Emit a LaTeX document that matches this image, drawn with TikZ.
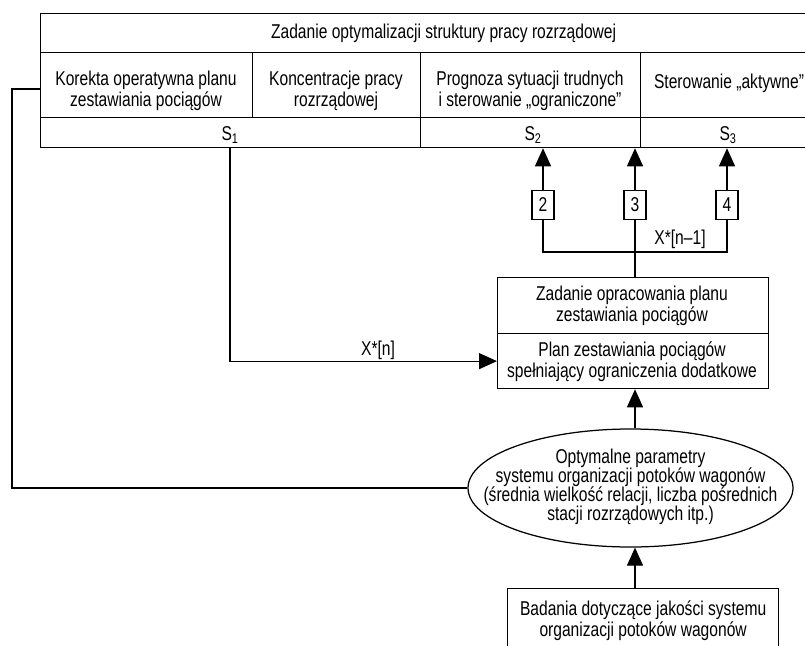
\documentclass[tikz,border=0pt]{standalone}
\usepackage{fontspec}
\setmainfont{Liberation Sans}[FakeStretch=0.78]
\usetikzlibrary{shapes.geometric,arrows.meta}
\begin{document}
\begin{tikzpicture}[x=1pt,y=-1pt,line width=1.25pt,
  every node/.style={font=\fontsize{20}{21}\selectfont,inner sep=0pt,align=center},
  box/.style={draw,anchor=north west},
  numbox/.style={draw,minimum width=22pt,minimum height=29pt},
  arr/.style={-{Triangle[length=18pt,width=16pt]}}]
\useasboundingbox (0,0) rectangle (805,645);
\clip (0,0) rectangle (805,645);
% top frame
\node[box,minimum width=806pt,minimum height=39pt] (head) at (40,13) {Zadanie optymalizacji struktury pracy rozrządowej};
\node[box,minimum width=212pt,minimum height=65pt] (c1) at (40,52) {};
\node[box,minimum width=168pt,minimum height=65pt] (c2) at (252,52) {};
\node[box,minimum width=220pt,minimum height=65pt] (c3) at (420,52) {};
\node[box,minimum width=206pt,minimum height=65pt] (c4) at (640,52) {};
\node[box,minimum width=380pt,minimum height=30pt] (s1) at (40,117) {};
\node[box,minimum width=220pt,minimum height=30pt] (s2) at (420,117) {};
\node[box,minimum width=206pt,minimum height=30pt] (s3) at (640,117) {};
\node (t1) at (146,91) {Korekta operatywna planu\\zestawiania pociągów};
\node (t2) at (336,91) {Koncentracje pracy\\rozrządowej};
\node (t3) at (530,91) {Prognoza sytuacji trudnych\\i sterowanie „ograniczone”};
\node[anchor=base] (t4) at (729,88) {Sterowanie „aktywne”};
\node[anchor=base] (ls1) at (230,140) {S\textsubscript{1}};
\node[anchor=base] (ls2) at (533,140) {S\textsubscript{2}};
\node[anchor=base] (ls3) at (728,140) {S\textsubscript{3}};
% small boxes
\node[numbox] (b2) at (543,205) {2};
\node[numbox] (b3) at (635,205) {3};
\node[numbox] (b4) at (727,205) {4};
% task box
\node[box,minimum width=271pt,minimum height=56pt] (zad) at (497,277) {};
\node[box,minimum width=271pt,minimum height=55pt] (plan) at (497,333) {};
\node (tz) at (632,306) {Zadanie opracowania planu\\zestawiania pociągów};
\node (tp) at (632,362) {Plan zestawiania pociągów\\spełniający ograniczenia dodatkowe};
% ellipse
\node[draw,ellipse,minimum width=325pt,minimum height=118pt] (ell) at (630.5,488) {};
\node[font=\fontsize{20}{19}\selectfont] (te) at (630.5,487) {Optymalne parametry\\systemu organizacji potoków wagonów\\(średnia wielkość relacji, liczba pośrednich\\stacji rozrządowych itp.)};
% bottom box
\node[box,minimum width=271pt,minimum height=64pt] (bad) at (507,588) {Badania dotyczące jakości systemu\\organizacji potoków wagonów};
% connectors
\coordinate (j) at (635,252);
\draw[arr] (b2.north) -- (b2.north |- s2.south);
\draw[arr] (b3.north) -- (b3.north |- s2.south);
\draw[arr] (b4.north) -- (b4.north |- s3.south);
\draw (b2.south) |- (j) -| (b4.south);
\draw (b3.south) -- (b3.south |- zad.north);
\node[anchor=base] (lx1) at (680,244) {X*[n–1]};
\draw[arr] (s1.south -| ls1) |- (plan.west);
\node[anchor=base] (lx) at (378,355) {X*[n]};
\draw[arr] (b3.south |- ell.north) -- (b3.south |- plan.south);
\draw[arr] (b3.south |- bad.north) -- (b3.south |- ell.south);
\coordinate (lp) at (12,89);
\draw (c1.west |- lp) -- (lp) |- (ell.west);
\end{tikzpicture}
\end{document}
